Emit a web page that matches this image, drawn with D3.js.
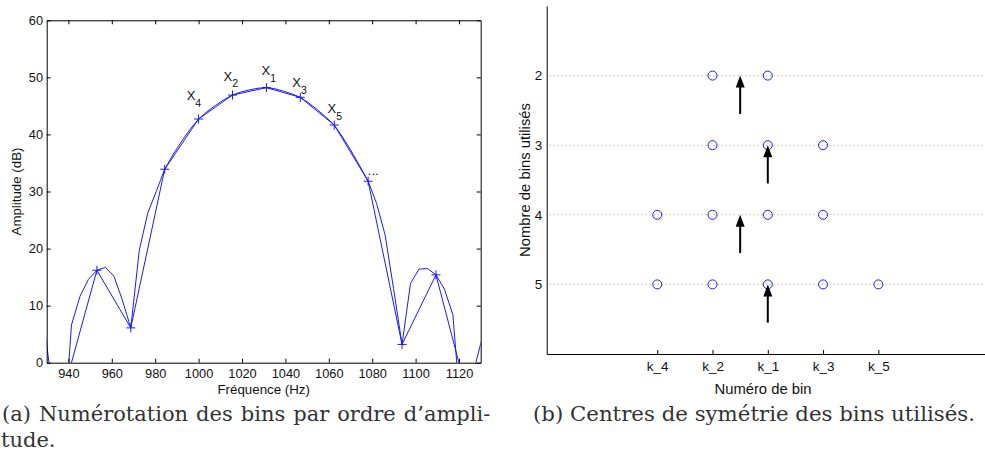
<!DOCTYPE html>
<html><head><meta charset="utf-8">
<script src="https://cdn.jsdelivr.net/npm/d3@7"></script>
<style>body{margin:0;background:#fff} svg{display:block}</style>
</head><body><svg id="c" width="985" height="469"></svg>
<script>
// ---------- data (panel a) ----------
const binFreqs = [937.5, 953.125, 968.75, 984.375, 1000, 1015.625, 1031.25, 1046.875, 1062.5, 1078.125, 1093.75, 1109.375, 1125];
const binAmps  = [-5.4, 16.2, 6.1, 33.9, 42.7, 46.9, 48.2, 46.5, 41.65, 31.8, 3.2, 15.4, -7.3];
const fineFreqs = [929.69, 933.59, 937.5, 941.41, 945.31, 949.22, 953.13, 957.03, 960.94, 964.84,
  968.75, 972.66, 976.56, 980.47, 984.38, 988.28, 992.19, 996.09, 1000, 1003.91,
  1007.81, 1011.72, 1015.63, 1019.53, 1023.44, 1027.34, 1031.25, 1035.16, 1039.06, 1042.97,
  1046.88, 1050.78, 1054.69, 1058.59, 1062.5, 1066.41, 1070.31, 1074.22, 1078.13, 1082.03,
  1085.94, 1089.84, 1093.75, 1097.66, 1101.56, 1105.47, 1109.38, 1113.28, 1117.19, 1121.09,
  1125, 1128.91, 1132.81];
const fineAmps = [4.2, -8, -15, 6.6, 11.6, 14.6, 16.2, 16.7, 15.2, 11.0,
  6.1, 19.7, 26.2, 30.0, 33.9, 36.5, 38.8, 40.9, 42.7, 44.0,
  45.1, 46.1, 46.9, 47.45, 47.8, 48.1, 48.2, 48.0, 47.6, 47.1,
  46.5, 45.5, 44.35, 43.05, 41.65, 39.5, 37.1, 34.5, 31.8, 27.9,
  22.4, 13.0, 3.2, 13.9, 16.4, 16.5, 15.4, 12.9, 8.4, -10,
  -4, 1.7, 7.6];
const freqTicks = [940, 960, 980, 1000, 1020, 1040, 1060, 1080, 1100, 1120];
const ampTicks = [0, 10, 20, 30, 40, 50, 60];
const annText = ["X", "X", "X", "X", "X", "..."];
const annSub  = ["1", "2", "3", "4", "5", ""];
const annFreq = [1029.0, 1011.5, 1043.2, 994.5, 1059.4, 1078.0];
const annAmp  = [50.4, 49.4, 48.3, 46.0, 43.7, 32.9];

// ---------- data (panel b) ----------
const binNames = ["k_4", "k_2", "k_1", "k_3", "k_5"];
const binPos   = [-2, -1, 0, 1, 2];
const rowCounts = [2, 3, 4, 5];
const rowBins = [["k_2", "k_1"], ["k_2", "k_1", "k_3"], ["k_4", "k_2", "k_1", "k_3"], ["k_4", "k_2", "k_1", "k_3", "k_5"]];
const symCenters = [-0.5, 0, -0.5, 0];

const svg = d3.select("#c");
const SANS = "'Liberation Sans', Arial, sans-serif";
const SERIF = "'DejaVu Serif', 'Liberation Serif', serif";
const BLUE = "#1a1aff";

// ================= Panel (a) =================
const ax = {l: 46.7, r: 480.7, t: 20.3, b: 362.7};
const x = d3.scaleLinear().domain([930, 1130]).range([ax.l, ax.r]);
const y = d3.scaleLinear().domain([0, 60]).range([ax.b, ax.t]);
const ga = svg.append("g");

ga.append("clipPath").attr("id", "clipA").append("rect")
  .attr("x", ax.l).attr("y", ax.t).attr("width", ax.r - ax.l).attr("height", ax.b - ax.t);

const plotA = ga.append("g").attr("clip-path", "url(#clipA)");
const line = d3.line().x(d => x(d[0])).y(d => y(d[1]));
plotA.append("path").datum(fineFreqs.map((f, i) => [f, fineAmps[i]]))
  .attr("d", line).attr("fill", "none").attr("stroke", BLUE).attr("stroke-width", 1);
plotA.append("path").datum(binFreqs.map((f, i) => [f, binAmps[i]]))
  .attr("d", line).attr("fill", "none").attr("stroke", BLUE).attr("stroke-width", 1);
const ms = 4.5;
plotA.selectAll("path.plus").data(binFreqs.map((f, i) => [f, binAmps[i]]))
  .join("path").attr("class", "plus")
  .attr("d", d => `M${x(d[0]) - ms},${y(d[1])}H${x(d[0]) + ms}M${x(d[0])},${y(d[1]) - ms}V${y(d[1]) + ms}`)
  .attr("stroke", BLUE).attr("stroke-width", 1).attr("fill", "none");

function styleAxis(g, fs) {
  g.selectAll("path.domain").attr("stroke", "#000").attr("stroke-width", 1);
  g.selectAll(".tick line").attr("stroke", "#000").attr("stroke-width", 1);
  g.selectAll("text").attr("font-family", SANS).attr("font-size", fs).attr("fill", "#111");
}
const fsA = 12.8, fsAL = 13.3;
const fmt = d3.format("d");
ga.append("g").attr("transform", `translate(0,${ax.b})`)
  .call(d3.axisBottom(x).tickValues(freqTicks).tickFormat(fmt).tickSize(-4).tickSizeOuter(0).tickPadding(6.2))
  .call(g => styleAxis(g, fsA));
ga.append("g").attr("transform", `translate(0,${ax.t})`)
  .call(d3.axisTop(x).tickValues(freqTicks).tickSize(-4).tickSizeOuter(0).tickFormat(""))
  .call(g => styleAxis(g, fsA));
ga.append("g").attr("transform", `translate(${ax.l},0)`)
  .call(d3.axisLeft(y).tickValues(ampTicks).tickFormat(fmt).tickSize(-4).tickSizeOuter(0).tickPadding(3.7))
  .call(g => styleAxis(g, fsA));
ga.append("g").attr("transform", `translate(${ax.r},0)`)
  .call(d3.axisRight(y).tickValues(ampTicks).tickSize(-4).tickSizeOuter(0).tickFormat(""))
  .call(g => styleAxis(g, fsA));

ga.append("text").attr("x", (ax.l + ax.r) / 2).attr("y", 394).attr("text-anchor", "middle")
  .attr("font-family", SANS).attr("font-size", fsAL).attr("fill", "#111").text("Fréquence (Hz)");
ga.append("text").attr("transform", `translate(21,${(ax.t + ax.b) / 2}) rotate(-90)`).attr("text-anchor", "middle")
  .attr("font-family", SANS).attr("font-size", fsAL).attr("fill", "#111").text("Amplitude (dB)");

annText.forEach((t, i) => {
  const tx = ga.append("text").attr("x", x(annFreq[i])).attr("y", y(annAmp[i]))
    .attr("font-family", SANS).attr("font-size", 13).attr("fill", "#111").text(t);
  if (annSub[i]) tx.append("tspan").attr("dy", 6.5).attr("font-size", 10.5).text(annSub[i]);
});

// ================= Panel (b) =================
const bx = {l: 546.7, t: 6, b: 354};
const xb = d3.scaleLinear().domain([-4, 4]).range([bx.l, 988.9]);
const yb = d3.scaleLinear().domain([1, 6]).range([bx.t, bx.b]);
const gb = svg.append("g");
const fsB = 13.5, fsBL = 14.8;

// dotted grid
gb.selectAll("line.grid").data(rowCounts).join("line").attr("class", "grid")
  .attr("x1", bx.l + 3).attr("x2", 985).attr("y1", d => yb(d)).attr("y2", d => yb(d))
  .attr("stroke", "#9a9a9a").attr("stroke-width", 1).attr("stroke-dasharray", "1,3");

gb.append("g").attr("transform", `translate(0,${bx.b})`)
  .call(d3.axisBottom(xb).tickValues(binPos).tickFormat((d, i) => binNames[i]).tickSize(-4).tickSizeOuter(0).tickPadding(7.4))
  .call(g => styleAxis(g, fsB));
gb.append("g").attr("transform", `translate(${bx.l},0)`)
  .call(d3.axisLeft(yb).tickValues(rowCounts).tickFormat(fmt).tickSize(0).tickSizeOuter(0).tickPadding(4.5))
  .call(g => styleAxis(g, fsB));

// circles
const circ = [];
rowCounts.forEach((n, r) => rowBins[r].forEach(b => circ.push([binPos[binNames.indexOf(b)], n])));
gb.selectAll("circle.pt").data(circ).join("circle").attr("class", "pt")
  .attr("cx", d => xb(d[0])).attr("cy", d => yb(d[1])).attr("r", 4.5)
  .attr("fill", "none").attr("stroke", BLUE).attr("stroke-width", 1);

// arrows
const headL = 12, headW = 9;
rowCounts.forEach((n, r) => {
  const cx = xb(symCenters[r]);
  const tip = yb(n), tail = yb(n + 0.55);
  gb.append("line").attr("x1", cx).attr("x2", cx).attr("y1", tail).attr("y2", tip + headL - 1)
    .attr("stroke", "#000").attr("stroke-width", 2);
  gb.append("path").attr("d", `M${cx},${tip}L${cx - headW / 2},${tip + headL}L${cx + headW / 2},${tip + headL}Z`)
    .attr("fill", "#000");
});

gb.append("text").attr("x", 763).attr("y", 394).attr("text-anchor", "middle")
  .attr("font-family", SANS).attr("font-size", fsBL).attr("fill", "#111").text("Numéro de bin");
gb.append("text").attr("transform", `translate(530,${(bx.t + bx.b) / 2}) rotate(-90)`).attr("text-anchor", "middle")
  .attr("font-family", SANS).attr("font-size", fsBL).attr("fill", "#111").text("Nombre de bins utilisés");

// ================= Captions =================
const capFs = 21;
svg.append("text").attr("x", 533).attr("y", 421)
  .attr("font-family", SERIF).attr("font-size", capFs).attr("fill", "#333")
  .attr("textLength", 442).attr("lengthAdjust", "spacingAndGlyphs")
  .text("(b) Centres de symétrie des bins utilisés.");

const capA = svg.append("text").attr("x", 2).attr("y", 421)
  .attr("font-family", SERIF).attr("font-size", capFs).attr("fill", "#333")
  .text("(a) Numérotation des bins par ordre d’ampli-");
const wA = capA.node().getComputedTextLength();
if (wA < 487) capA.style("word-spacing", ((487 - wA) / 5) + "px");
else capA.attr("textLength", 487).attr("lengthAdjust", "spacingAndGlyphs");
svg.append("text").attr("x", 1).attr("y", 447)
  .attr("font-family", SERIF).attr("font-size", capFs).attr("fill", "#333").text("tude.");
</script></body></html>
